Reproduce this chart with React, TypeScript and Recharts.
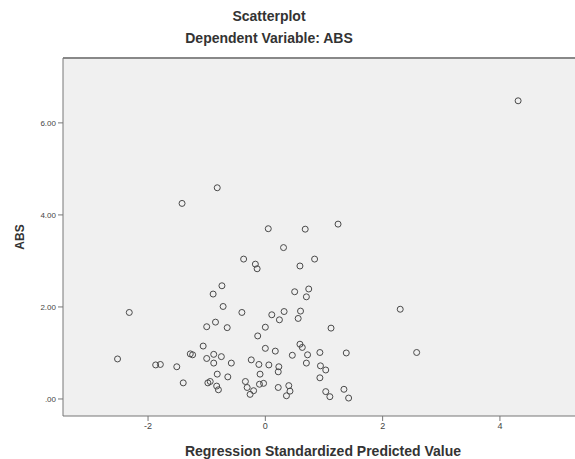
import { ScatterChart, Scatter, XAxis, YAxis, CartesianGrid, ReferenceLine } from 'recharts';

// Regression Standardized Predicted Value
const predicted = [
  4.31, -1.42, -0.82, 0.05, 0.68, 1.24, 0.31, -0.37, -0.17, -0.14, 0.59, 0.84,
  -0.74, -0.89, -0.72, -0.4, 0.5, 0.74, 0.7, 0.11, 0.24, 0.32, 0.6, 0.56,
  -1.0, -0.85, -0.65, 0.0, 1.12, -0.13, -1.06, 0.0, 0.17, 0.59, 0.63, 0.46,
  0.72, 0.93, 1.38, -1.0, -0.88, -0.75, -0.88, -0.58, -0.24, -0.11, 0.06, 0.23,
  0.22, 0.7, 0.94, 1.03, 0.93, -0.82, -0.64, -0.09, -0.94, -0.83, -0.8, -0.34,
  -0.31, -0.2, -0.1, -0.03, -0.26, 0.22, 0.4, 0.42, 0.36, 1.03, 1.1, 1.34,
  1.42, -2.32, -2.52, -1.87, -1.79, -1.51, -1.4, -1.28, -1.24, -0.98, 2.3, 2.58,
];

// ABS
const abs = [
  6.48, 4.25, 4.59, 3.7, 3.69, 3.8, 3.29, 3.04, 2.93, 2.83, 2.89, 3.04,
  2.46, 2.28, 2.01, 1.88, 2.33, 2.39, 2.22, 1.83, 1.72, 1.9, 1.91, 1.75,
  1.57, 1.67, 1.55, 1.56, 1.54, 1.37, 1.15, 1.1, 1.04, 1.19, 1.12, 0.95,
  0.96, 1.01, 1.0, 0.88, 0.97, 0.92, 0.78, 0.78, 0.85, 0.75, 0.74, 0.7,
  0.59, 0.78, 0.72, 0.63, 0.46, 0.54, 0.48, 0.54, 0.38, 0.28, 0.2, 0.38,
  0.25, 0.18, 0.32, 0.34, 0.1, 0.25, 0.29, 0.17, 0.07, 0.16, 0.05, 0.21,
  0.02, 1.88, 0.87, 0.74, 0.75, 0.7, 0.35, 0.98, 0.96, 0.35, 1.95, 1.01,
];

const xTicks = [-2, 0, 2, 4];
const yTicks = [0, 2, 4, 6];

const points = predicted.map((x, i) => ({ x, y: abs[i] }));

const Ring = (props: any) => (
  <circle cx={props.cx} cy={props.cy} r={3} fill="none" stroke="#4a4a4a" strokeWidth={1} />
);

const font = '"Liberation Sans", Arial, sans-serif';

export default function App() {
  return (
    <div style={{ position: 'relative', width: 575, height: 459, background: '#fff', fontFamily: font }}>
      <style>{'body{margin:0}'}</style>
      <div style={{ position: 'absolute', left: 0, width: 538, top: 8, textAlign: 'center', fontSize: 14, fontWeight: 'bold', color: '#333' }}>
        Scatterplot
      </div>
      <div style={{ position: 'absolute', left: 0, width: 538, top: 30, textAlign: 'center', fontSize: 14, fontWeight: 'bold', color: '#333' }}>
        Dependent Variable: ABS
      </div>
      <ScatterChart width={575} height={459} margin={{ top: 58, right: 0, bottom: 0, left: 0 }}>
        <CartesianGrid horizontal={false} vertical={false} fill="#f0f0f0" />
        <XAxis
          type="number"
          dataKey="x"
          domain={[-3.45, 5.28]}
          ticks={xTicks}
          allowDataOverflow
          height={43}
          tickSize={5}
          stroke="#777"
          tick={{ fill: '#444', fontSize: 9, fontFamily: font }}
        />
        <YAxis
          type="number"
          dataKey="y"
          domain={[-0.37, 7.41]}
          ticks={yTicks}
          allowDataOverflow
          width={63}
          tickSize={5}
          stroke="#777"
          tickFormatter={(v: number) => (v === 0 ? '.00' : v.toFixed(2))}
          tick={{ fill: '#444', fontSize: 8, fontFamily: font }}
        />
        <ReferenceLine y={7.41} stroke="#888" strokeWidth={2} />
        <Scatter data={points} shape={Ring} isAnimationActive={false} />
      </ScatterChart>
      <div style={{ position: 'absolute', left: 63, width: 520, top: 443, textAlign: 'center', fontSize: 14, fontWeight: 'bold', color: '#333' }}>
        Regression Standardized Predicted Value
      </div>
      <div
        style={{
          position: 'absolute', left: 20, top: 237, fontSize: 12, fontWeight: 'bold', color: '#333',
          transform: 'translate(-50%, -50%) rotate(-90deg)', whiteSpace: 'nowrap',
        }}
      >
        ABS
      </div>
    </div>
  );
}
